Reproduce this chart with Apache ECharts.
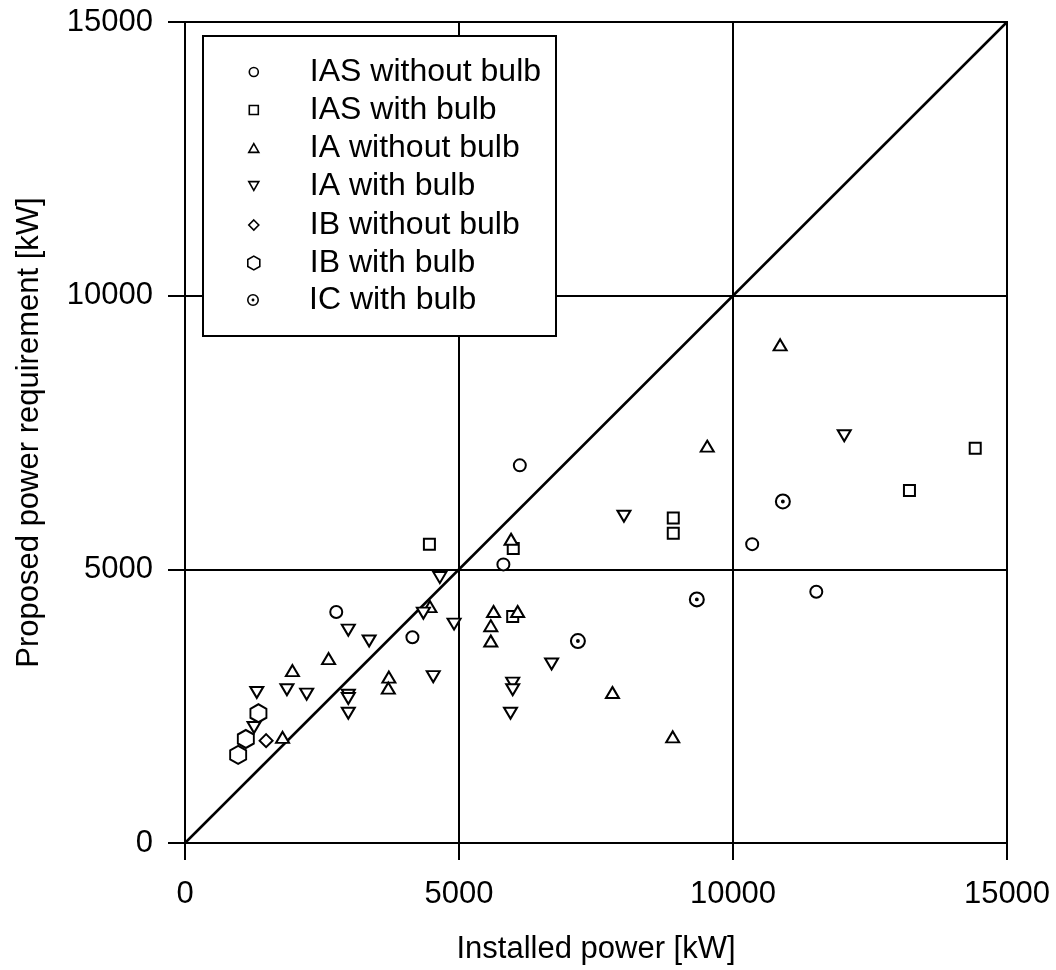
<!DOCTYPE html>
<html>
<head>
<meta charset="utf-8">
<title>Installed power vs proposed power requirement</title>
<script src="https://cdn.jsdelivr.net/npm/echarts@6/dist/echarts.min.js"></script>
<style>
  html, body { margin: 0; padding: 0; background: #ffffff; }
  #chart { width: 1056px; height: 970px; }
</style>
</head>
<body>
<div id="chart"></div>
<script>
// ---- data ----------------------------------------------------------------
const axisTicks = [0, 5000, 10000, 15000];
const xTitle = 'Installed power [kW]';
const yTitle = 'Proposed power requirement [kW]';

const seriesNames = [
  'IAS without bulb',
  'IAS with bulb',
  'IA without bulb',
  'IA with bulb',
  'IB without bulb',
  'IB with bulb',
  'IC with bulb'
];

// [installed power, proposed power requirement] in kW
const iasWithoutBulb = [
  [2760, 4220], [4150, 3760], [5810, 5090], [6110, 6900],
  [10350, 5460], [11520, 4590]
];
const iasWithBulb = [
  [4460, 5460], [5990, 5380], [5980, 4140], [8910, 5940],
  [8910, 5660], [13220, 6440], [14420, 7210]
];
const iaWithoutBulb = [
  [1780, 1930], [1960, 3150], [2620, 3370], [3720, 3030],
  [3710, 2830], [4470, 4320], [5630, 4230], [5580, 3970],
  [5580, 3690], [6070, 4230], [5950, 5550], [7800, 2750],
  [8900, 1940], [9530, 7250], [10860, 9100]
];
const iaWithBulb = [
  [1310, 2750], [1260, 2110], [1860, 2800], [2220, 2720],
  [2980, 3890], [3360, 3690], [2980, 2700], [2980, 2640],
  [2980, 2370], [4350, 4200], [4650, 4850], [4910, 4000],
  [4530, 3040], [5980, 2920], [5980, 2800], [5940, 2370],
  [6690, 3270], [8010, 5970], [12030, 7440]
];
const ibWithoutBulb = [
  [1480, 1870]
];
const ibWithBulb = [
  [970, 1610], [1110, 1900], [1340, 2370]
];
const icWithBulb = [
  [7170, 3690], [9340, 4450], [10910, 6240]
];

// reference line: proposed = installed
const diagonal = [0, 15000];

// ---- marker shapes ---------------------------------------------------------
const FONT = "'Liberation Sans', Arial, Helvetica, sans-serif";
const SQUARE = 'path://M0,0 L10,0 L10,10 L0,10 Z';
const TRI_UP = 'path://M6,0 L12,10.4 L0,10.4 Z';
const TRI_DOWN = 'path://M0,0 L12,0 L6,10.4 Z';
const HEXAGON = 'path://M43.3,0 L86.6,25 L86.6,75 L43.3,100 L0,75 L0,25 Z';
// ring with a dot in the middle, filled with the nonzero rule
const RING_DOT = 'path://M50,0 A50,50 0 1,1 50,100 A50,50 0 1,1 50,0 Z ' +
                 'M50,13 A37,37 0 1,0 50,87 A37,37 0 1,0 50,13 Z ' +
                 'M50,38 A12,12 0 1,1 50,62 A12,12 0 1,1 50,38 Z';

const hollow = { color: '#ffffff', borderColor: '#000000', borderWidth: 2 };
const solid = { color: '#000000', borderWidth: 0 };

// per-series style: [data, symbol, chart size, legend size, style]
const styles = [
  [iasWithoutBulb, 'circle', 12, [9, 9], hollow],
  [iasWithBulb, SQUARE, 11, [9, 9], hollow],
  [iaWithoutBulb, TRI_UP, [13, 11], [10, 9], hollow],
  [iaWithBulb, TRI_DOWN, [13, 11], [10, 9], hollow],
  [ibWithoutBulb, 'diamond', 13, [10, 10], hollow],
  [ibWithBulb, HEXAGON, [16, 18], [12, 14], hollow],
  [icWithBulb, RING_DOT, 16, [12, 12], solid]
];

const scatterSeries = seriesNames.map((name, i) => {
  const [data, symbol, size, , style] = styles[i];
  return {
    name: name,
    type: 'scatter',
    data: data,
    symbol: symbol,
    symbolSize: size,
    itemStyle: Object.assign({ opacity: 1 }, style),
    emphasis: { disabled: true },
    z: 3
  };
});

const lineSeries = {
  name: 'diagonal',
  type: 'line',
  data: [[diagonal[0], diagonal[0]], [diagonal[1], diagonal[1]]],
  symbol: 'none',
  silent: true,
  lineStyle: { color: '#000000', width: 2.5 },
  z: 2
};

// ---- legend: one row per series inside a framed box ------------------------
const legendRowCenters = [72, 110, 148, 186, 225, 263, 300];
const legendIconX = 253;
const legendTextX = 309;
const legendFont = 32;

const legends = seriesNames.map((name, i) => {
  const [, symbol, , lsize, style] = styles[i];
  const w = lsize[0], h = lsize[1];
  return {
    data: [name],
    left: legendIconX - w / 2,
    top: legendRowCenters[i] - legendFont / 2,
    padding: 0,
    itemWidth: w,
    itemHeight: h,
    icon: symbol,
    selectedMode: false,
    itemStyle: Object.assign({}, style, style === hollow ? { borderWidth: 1.6 } : {}),
    textStyle: {
      fontFamily: FONT,
      fontSize: legendFont,
      color: '#000000',
      padding: [0, 0, 0, legendTextX - (legendIconX + w / 2 + 5)]
    },
    z: 20
  };
});

// ---- chart ------------------------------------------------------------------
const chart = echarts.init(document.getElementById('chart'), null, { renderer: 'canvas' });

const axisCommon = {
  type: 'value',
  min: axisTicks[0],
  max: axisTicks[axisTicks.length - 1],
  interval: axisTicks[1] - axisTicks[0],
  nameLocation: 'middle',
  nameTextStyle: { fontFamily: FONT, fontSize: 31, color: '#000000' },
  axisLine: { show: true, onZero: false, lineStyle: { color: '#000000', width: 2 } },
  axisTick: { show: true, inside: false, length: 17, lineStyle: { color: '#000000', width: 2 } },
  axisLabel: {
    fontFamily: FONT, fontSize: 31, color: '#000000',
    formatter: (v) => String(v)
  },
  splitLine: { show: true, lineStyle: { color: '#000000', width: 2 } }
};

chart.setOption({
  animation: false,
  backgroundColor: '#ffffff',
  grid: {
    left: 185, right: 49, top: 22, bottom: 127,
    show: true, borderColor: '#000000', borderWidth: 2,
    backgroundColor: 'transparent'
  },
  xAxis: Object.assign({}, axisCommon, {
    name: xTitle,
    nameGap: 91,
    axisLabel: Object.assign({}, axisCommon.axisLabel, { margin: 36 })
  }),
  yAxis: Object.assign({}, axisCommon, {
    name: yTitle,
    nameGap: 140,
    axisLabel: Object.assign({}, axisCommon.axisLabel, { margin: 32 })
  }),
  legend: legends,
  graphic: {
    elements: [{
      type: 'rect',
      left: 202,
      top: 35,
      shape: { width: 353, height: 300 },
      style: { fill: '#ffffff', stroke: '#000000', lineWidth: 2 },
      z: 10,
      silent: true
    }]
  },
  series: [lineSeries].concat(scatterSeries)
});
</script>
</body>
</html>
